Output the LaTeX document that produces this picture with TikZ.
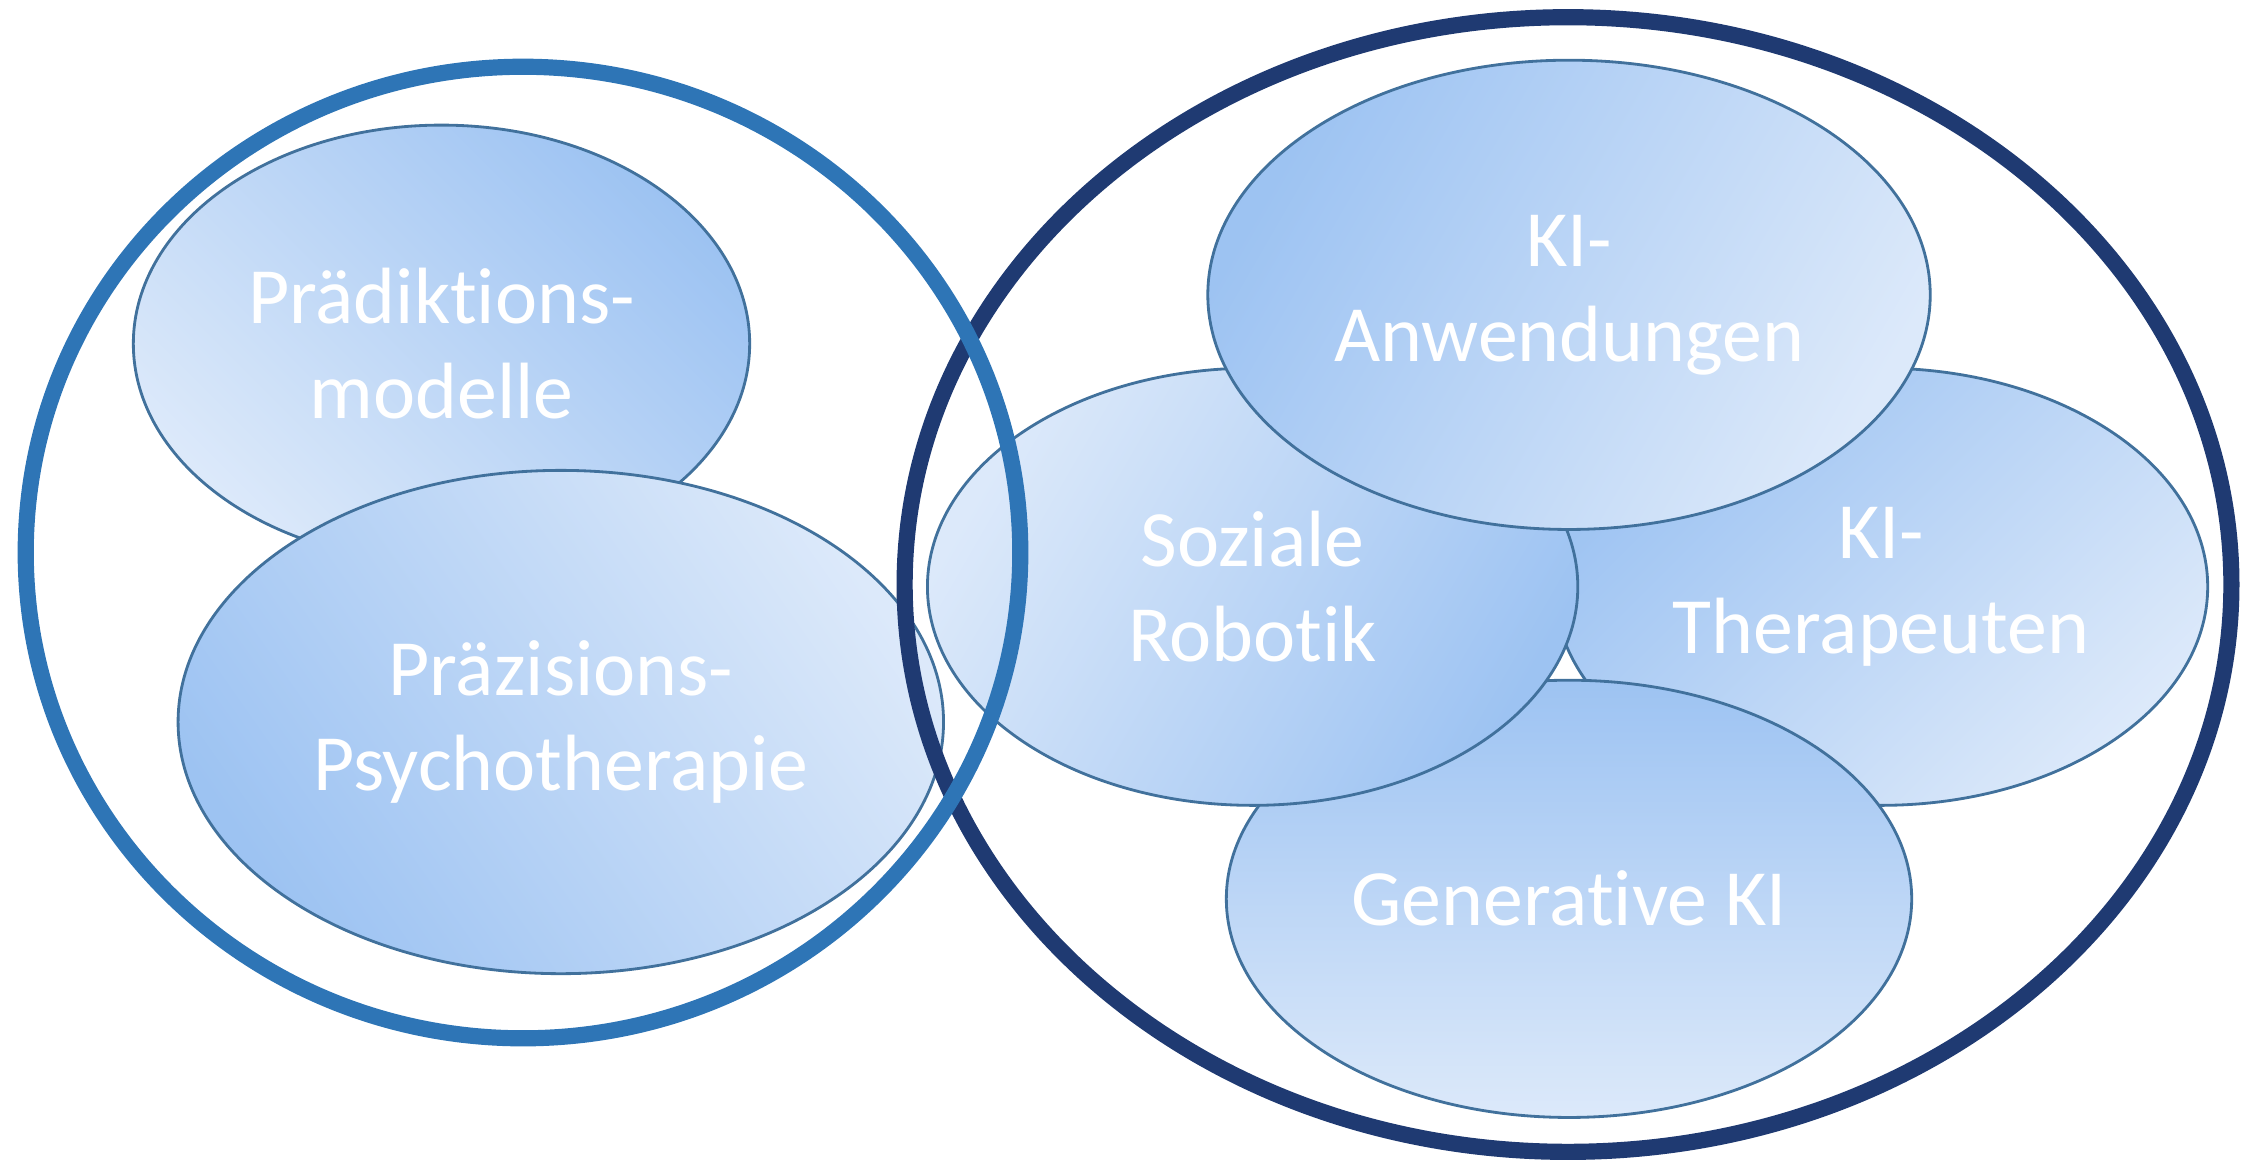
\documentclass[tikz,border=0pt]{standalone}
\usepackage{fontspec}
\setmainfont{Carlito}[Ligatures={NoCommon}]
\usepackage{tikz}
\usetikzlibrary{shapes.geometric}
\definecolor{kreisblau}{RGB}{46,117,182}
\definecolor{kreisnavy}{RGB}{31,58,114}
\definecolor{randblau}{RGB}{65,113,156}
\definecolor{fuelldunkel}{RGB}{157,195,242}
\definecolor{fuellhell}{RGB}{220,233,250}

\begin{document}
\begin{tikzpicture}[x=0.01cm,y=-0.01cm]
        \tikzstyle{feld}=[ellipse,draw=randblau,line width=0.8pt,inner sep=0pt,
            top color=fuelldunkel,bottom color=fuellhell,text=white,
            align=center,font=\fontsize{22.7}{27}\selectfont]
        \tikzstyle{rahmen}=[ellipse,line width=4.6pt,inner sep=0pt]
            \useasboundingbox (0,0) rectangle (2255,1162);

            % linke Gruppe
            \node[feld,shading angle=-45,minimum width=6.16cm,minimum height=4.37cm]
                (praed) at (441.5,343.7) {Prädiktions-\\modelle};
            \node[feld,shading angle=125,minimum width=7.65cm,minimum height=5.03cm]
                (praez) at (560.8,722) {Präzisions-\\Psychotherapie};

            % rechte Gruppe
            \node[feld,shading angle=45,minimum width=6.53cm,minimum height=4.37cm]
                (ther) at (1881,586.7) {KI-\\Therapeuten};
            \node[feld,shading angle=0,minimum width=6.85cm,minimum height=4.37cm]
                (gen) at (1569,898.8) {Generative KI};
            \node[feld,shading angle=-120,minimum width=6.50cm,minimum height=4.37cm]
                (robo) at (1252.6,586.7) {Soziale\\Robotik};
            \node[feld,shading angle=60,minimum width=7.22cm,minimum height=4.69cm]
                (anw) at (1569,294.8) {KI-\\Anwendungen};

            \node[rahmen,draw=kreisnavy,minimum width=13.26cm,minimum height=11.34cm]
                (rechts) at (1568,584.5) {};
            \node[rahmen,draw=kreisblau,minimum width=9.94cm,minimum height=9.71cm]
                (links) at (523,552.5) {};
        \end{tikzpicture}
\end{document}
